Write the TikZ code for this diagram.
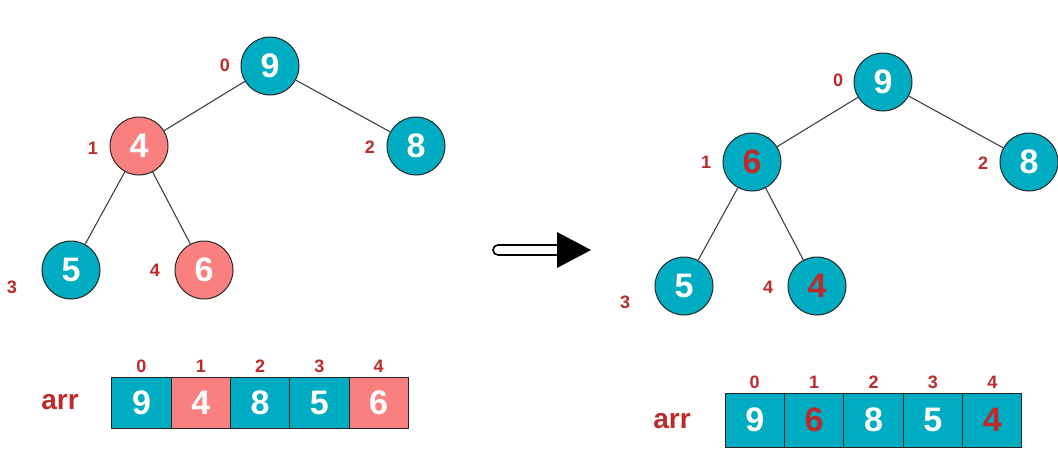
\documentclass[tikz,border=0pt]{standalone}
\usepackage{fontspec}
\setmainfont{Liberation Sans}
\definecolor{heapteal}{RGB}{0,172,194}
\definecolor{heappink}{RGB}{250,128,128}
\definecolor{idxred}{RGB}{190,42,42}
\tikzset{
	heapnode/.style={circle, draw=black!85, line width=1pt, minimum size=58pt, inner sep=0pt,
		font=\fontsize{34}{40}\selectfont\bfseries, text=white, fill=heapteal},
	cellbox/.style={rectangle, draw=black!85, line width=1pt, minimum width=59.3pt, minimum height=52pt,
		inner sep=0pt, font=\fontsize{34}{40}\selectfont\bfseries, text=white, fill=heapteal},
	idx/.style={text=idxred, font=\fontsize{18}{21}\selectfont\bfseries, inner sep=2pt},
	arrlabel/.style={text=idxred, font=\fontsize{28}{32}\selectfont\bfseries},
	treeedge/.style={draw=black!75, line width=1.1pt}
}
\begin{document}
\begin{tikzpicture}[x=1pt, y=-1pt]
	\useasboundingbox (0,0) rectangle (1058,458);
	% left tree (before sift-down)
	\node[heapnode] (l0) at (270,66) {9};
	\node[heapnode, fill=heappink] (l1) at (139,146) {4};
	\node[heapnode] (l2) at (416,146) {8};
	\node[heapnode] (l3) at (71,270) {5};
	\node[heapnode, fill=heappink] (l4) at (204,270) {6};
	\draw[treeedge] (l0) -- (l1);
	\draw[treeedge] (l0) -- (l2);
	\draw[treeedge] (l1) -- (l3);
	\draw[treeedge] (l1) -- (l4);
	\node[idx] (li0) at (225,65) {0};
	\node[idx] (li1) at (93,148) {1};
	\node[idx] (li2) at (370,147) {2};
	\node[idx] (li3) at (12,287) {3};
	\node[idx] (li4) at (155,270) {4};
	% left array
	\node[arrlabel] (larr) at (60,402) {arr};
	\node[cellbox, minimum height=51pt] (lc0) at (141.5,402.5) {9};
	\node[cellbox, minimum height=51pt, fill=heappink] (lc1) at (200.8,402.5) {4};
	\node[cellbox, minimum height=51pt] (lc2) at (260.1,402.5) {8};
	\node[cellbox, minimum height=51pt] (lc3) at (319.4,402.5) {5};
	\node[cellbox, minimum height=51pt, fill=heappink] (lc4) at (378.7,402.5) {6};
	\node[idx, above=2pt] at (lc0.north) {0};
	\node[idx, above=2pt] at (lc1.north) {1};
	\node[idx, above=2pt] at (lc2.north) {2};
	\node[idx, above=2pt] at (lc3.north) {3};
	\node[idx, above=2pt] at (lc4.north) {4};
	% big arrow (hollow shaft, black head)
	\draw[line width=1.6pt, fill=white, rounded corners=5pt] (493,245) rectangle (561,255);
	\fill[black] (557,232) -- (591,250) -- (557,268) -- cycle;
	% right tree (after sift-down)
	\node[heapnode] (r0) at (883,82) {9};
	\node[heapnode, text=idxred] (r1) at (752,162) {6};
	\node[heapnode] (r2) at (1029,162) {8};
	\node[heapnode] (r3) at (684,286) {5};
	\node[heapnode, text=idxred] (r4) at (817,286) {4};
	\draw[treeedge] (r0) -- (r1);
	\draw[treeedge] (r0) -- (r2);
	\draw[treeedge] (r1) -- (r3);
	\draw[treeedge] (r1) -- (r4);
	\node[idx] (ri0) at (838,80) {0};
	\node[idx] (ri1) at (706,162) {1};
	\node[idx] (ri2) at (983,163) {2};
	\node[idx] (ri3) at (625,302) {3};
	\node[idx] (ri4) at (768,287) {4};
	% right array
	\node[arrlabel] (rarr) at (672,421) {arr};
	\node[cellbox, minimum height=54pt] (rc0) at (754.7,420) {9};
	\node[cellbox, minimum height=54pt, text=idxred] (rc1) at (814.1,420) {6};
	\node[cellbox, minimum height=54pt] (rc2) at (873.5,420) {8};
	\node[cellbox, minimum height=54pt] (rc3) at (932.9,420) {5};
	\node[cellbox, minimum height=54pt, text=idxred] (rc4) at (992.3,420) {4};
	\node[idx, above=2pt] at (rc0.north) {0};
	\node[idx, above=2pt] at (rc1.north) {1};
	\node[idx, above=2pt] at (rc2.north) {2};
	\node[idx, above=2pt] at (rc3.north) {3};
	\node[idx, above=2pt] at (rc4.north) {4};
\end{tikzpicture}
\end{document}
